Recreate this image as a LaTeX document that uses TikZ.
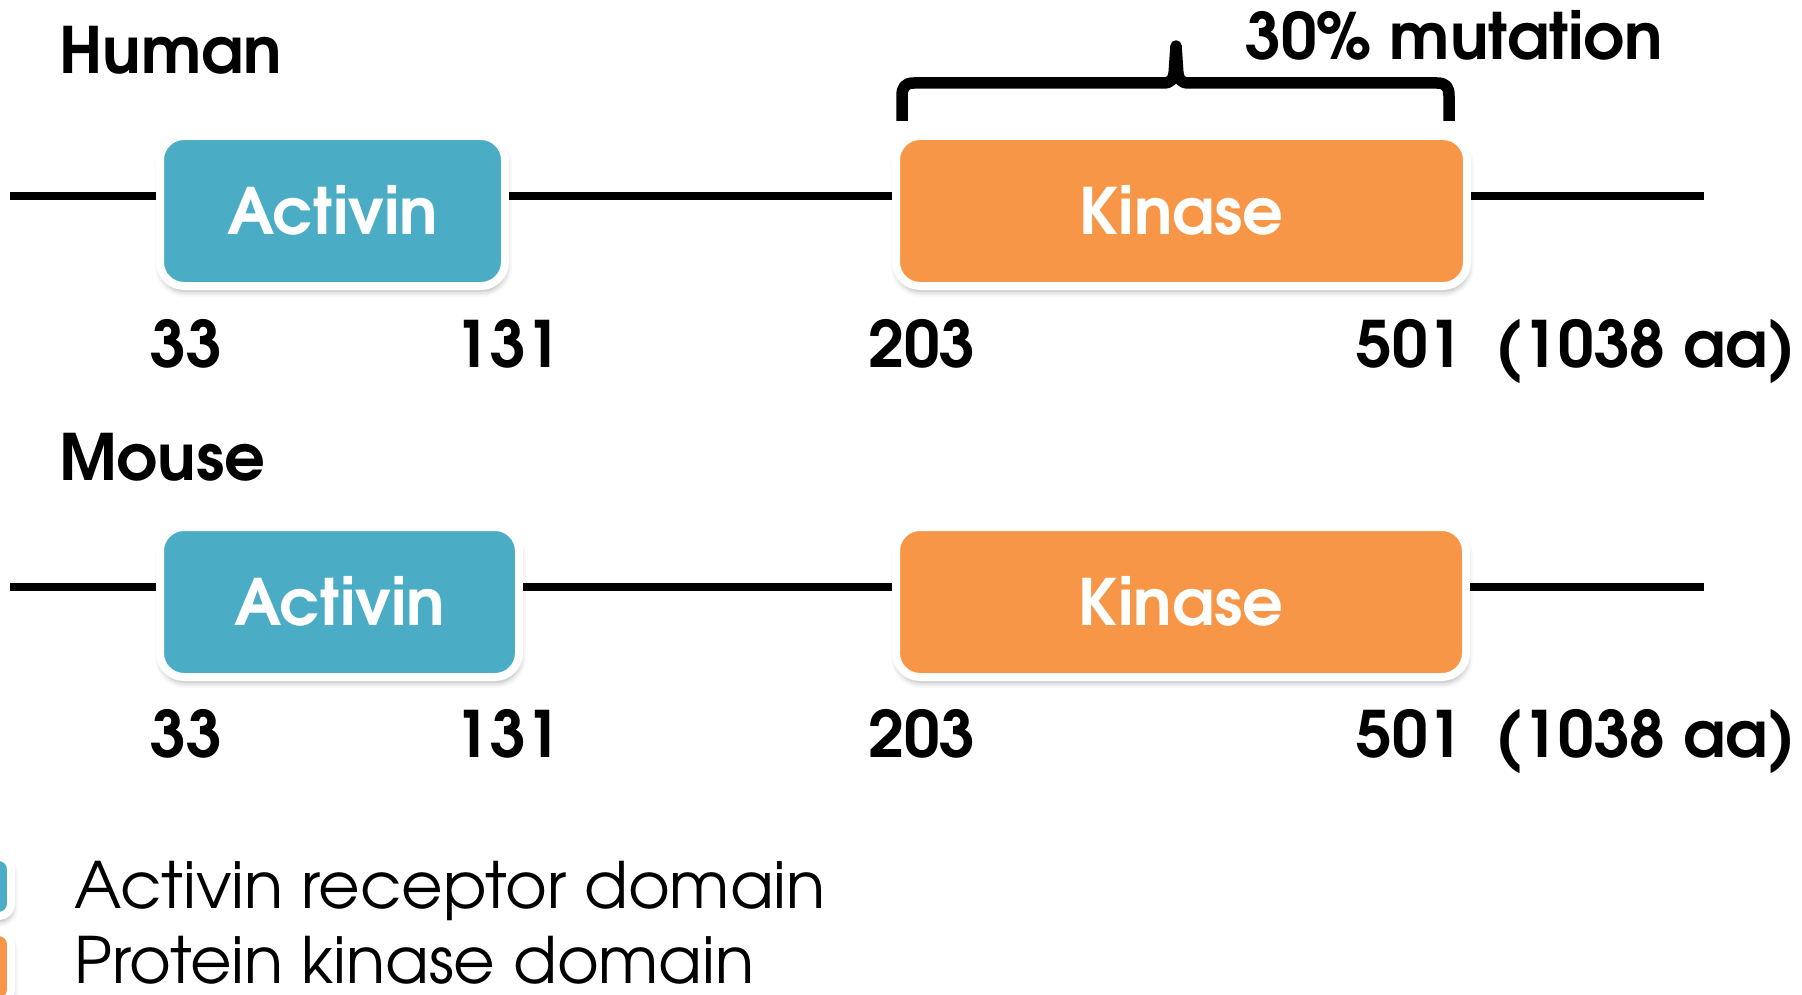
\documentclass[tikz,border=0pt]{standalone}
\usepackage{fontspec}
\setmainfont{TeX Gyre Adventor}
\usetikzlibrary{shadows.blur}
\definecolor{actblue}{HTML}{4BACC6}
\definecolor{kinorange}{HTML}{F79646}
\tikzset{
  dombox/.style={draw=white, line width=8pt, rounded corners=24pt,
    minimum height=150pt, inner sep=0pt, text=white,
    font=\fontsize{64}{70}\selectfont\bfseries,
    text height=47pt, text depth=0pt,
    blur shadow={shadow xshift=1pt, shadow yshift=-5pt, shadow blur radius=6pt, shadow opacity=35}},
  backbone/.style={line width=8pt, black},
  lbl/.style={anchor=base west, inner sep=0pt, font=\fontsize{64}{70}\selectfont\bfseries},
  legtext/.style={anchor=base west, inner sep=0pt, font=\fontsize{64}{70}\selectfont},
  bracepath/.style={line width=11.5pt, line join=round, line cap=butt}
}
\begin{document}
\begin{tikzpicture}[x=1pt,y=-1pt]
\useasboundingbox (0,0) rectangle (1802,995);

% ---- human ----
\node[lbl] (humanlbl) at (59,74) {Human};
\node[dombox, fill=actblue, minimum width=345pt] (hA) at (332.5,211) {Activin};
\node[dombox, fill=kinorange, minimum width=571pt] (hK) at (1181.5,211) {Kinase};
\coordinate (hL) at (10,196);
\coordinate (hR) at (1704,196);
\draw[backbone] (hL) -- (hL -| hA.west);
\draw[backbone] (hL -| hA.east) -- (hL -| hK.west);
\draw[backbone] (hL -| hK.east) -- (hR);

% bracket over the kinase domain
\coordinate (brL) at (902,121);
\coordinate (brR) at (1449,121);
\coordinate (brT) at (1176,46);
\draw[bracepath] (brL) -- (902,96) .. controls (902,87) and (905,83) .. (914,83)
  -- (1163,83) .. controls (1171,83) and (1174,80) .. (1174.5,68) -- (brT)
  -- (1177.5,68) .. controls (1178,80) and (1181,83) .. (1189,83)
  -- (1437,83) .. controls (1446,83) and (1449,87) .. (1449,96) -- (brR);
\node[lbl] (mut) at (1245,60) {30\% mutation};

\node[lbl] (h33) at (150,367) {33};
\node[lbl] (h131) at (454,367) {131};
\node[lbl] (h203) at (868,367) {203};
\node[lbl] (h501) at (1356,367) {501};
\node[lbl] (hlen) at (1495,367) {(1038 aa)};

% ---- mouse ----
\node[lbl] (mouselbl) at (59,480) {Mouse};
\node[dombox, fill=actblue, minimum width=359pt] (mA) at (339.5,602) {Activin};
\node[dombox, fill=kinorange, minimum width=570pt] (mK) at (1181,602) {Kinase};
\coordinate (mL) at (10,587);
\coordinate (mR) at (1704,587);
\draw[backbone] (mL) -- (mL -| mA.west);
\draw[backbone] (mL -| mA.east) -- (mL -| mK.west);
\draw[backbone] (mL -| mK.east) -- (mR);

\node[lbl] (m33) at (150,757) {33};
\node[lbl] (m131) at (454,757) {131};
\node[lbl] (m203) at (868,757) {203};
\node[lbl] (m501) at (1356,757) {501};
\node[lbl] (mlen) at (1495,757) {(1038 aa)};

% ---- legend ----
\node[dombox, fill=actblue, minimum width=60pt, minimum height=59pt, rounded corners=12pt] (keyA) at (-19,886.5) {};
\node[dombox, fill=kinorange, minimum width=60pt, minimum height=70pt, rounded corners=12pt] (keyK) at (-19,967) {};
\node[legtext] (legA) at (74,908) {Activin receptor domain};
\node[legtext] (legK) at (74,983) {Protein kinase domain};
\end{tikzpicture}
\end{document}
